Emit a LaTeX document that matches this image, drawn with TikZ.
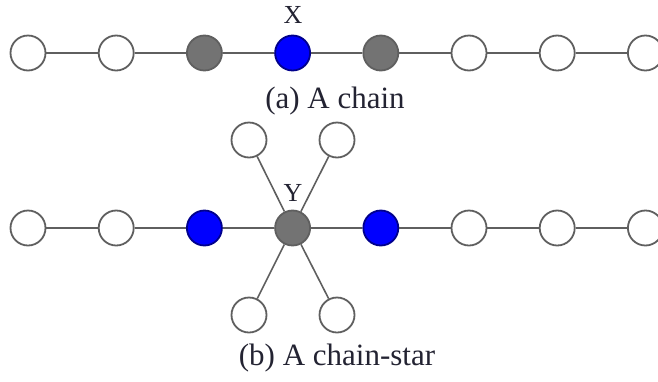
\documentclass[tikz,border=0pt]{standalone}
\usepackage{fontspec}
\setmainfont{Liberation Serif}
\definecolor{linegray}{RGB}{95,95,95}
\definecolor{txtdark}{RGB}{35,35,50}
\tikzset{
  vtx/.style={circle, draw=linegray, line width=1.8pt, fill=white, minimum size=35pt, inner sep=0pt},
  vgray/.style={vtx, fill=black!55},
  vblue/.style={vtx, fill=blue, draw=blue!55!black},
  edge/.style={draw=linegray, line width=1.6pt},
  lbl/.style={anchor=base, font=\fontsize{26}{30}\selectfont},
  capt/.style={anchor=base, font=\fontsize{31}{34}\selectfont},
}
\begin{document}
\begin{tikzpicture}[x=1pt, y=-1pt, text=txtdark]
  \useasboundingbox (0,0) rectangle (658,381);
  \def\dx{88.2} % node spacing
  % (a) plain chain
  \foreach \i/\s in {0/vtx,1/vtx,2/vgray,3/vblue,4/vgray,5/vtx,6/vtx,7/vtx}
    \node[\s] (a\i) at (28+\i*\dx, 53) {};
  \foreach \i [evaluate=\i as \j using int(\i+1)] in {0,...,6}
    \draw[edge] (a\i) -- (a\j);
  \node[lbl] (lblX) at (293,23) {X};
  \node[capt] (capa) at (335,108) {(a) A chain};

  % (b) chain with a star in the middle
  \foreach \i/\s in {0/vtx,1/vtx,2/vblue,3/vgray,4/vblue,5/vtx,6/vtx,7/vtx}
    \node[\s] (b\i) at (28+\i*\dx, 228) {};
  \foreach \i [evaluate=\i as \j using int(\i+1)] in {0,...,6}
    \draw[edge] (b\i) -- (b\j);
  % star leaves around Y
  \foreach \k/\ox/\oy in {1/-44/-88, 2/44/-88, 3/-44/87, 4/44/87} {
    \node[vtx] (s\k) at (293+\ox, 228+\oy) {};
    \draw[edge] (b3) -- (s\k);
  }
  \node[lbl] (lblY) at (293,201) {Y};
  \node[capt] (capb) at (337,365) {(b) A chain-star};
\end{tikzpicture}
\end{document}
